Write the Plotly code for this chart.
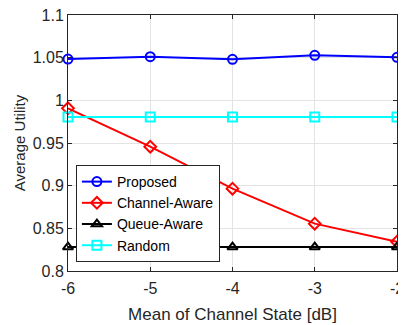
import plotly.graph_objects as go

x_vals = [-6, -5, -4, -3, -2]
x_tick_labels = ["-6", "-5", "-4", "-3", "-2"]
y_tick_vals = [0.8, 0.85, 0.9, 0.95, 1.0, 1.05, 1.1]
y_tick_labels = ["0.8", "0.85", "0.9", "0.95", "1", "1.05", "1.1"]
proposed = [1.0484, 1.0511, 1.0480, 1.0528, 1.0504]
channel_aware = [0.9906, 0.9457, 0.8965, 0.8555, 0.8343]
queue_aware = [0.828, 0.828, 0.828, 0.828, 0.828]
random_vals = [0.9805, 0.9805, 0.9805, 0.9805, 0.9805]

series = [
    ("Proposed", proposed, "#0000FF", "circle-open"),
    ("Channel-Aware", channel_aware, "#FF0000", "diamond-open"),
    ("Queue-Aware", queue_aware, "#000000", "triangle-up-open"),
    ("Random", random_vals, "#00FFFF", "square-open"),
]

FONT = "Liberation Sans, Arial, Helvetica, sans-serif"

fig = go.Figure()
for name, ys, color, sym in series:
    fig.add_trace(go.Scatter(
        x=x_vals, y=ys, name=name, mode="lines+markers",
        line=dict(color=color, width=2),
        marker=dict(symbol=sym, size=9, color=color, line=dict(color=color, width=2)),
        cliponaxis=False,
    ))

axis_common = dict(
    showgrid=True, gridcolor="#E3E3E3", gridwidth=1,
    showline=True, linecolor="#262626", linewidth=1, mirror="ticks",
    ticks="inside", ticklen=4, tickcolor="#262626",
    tickfont=dict(family=FONT, size=16, color="#262626"),
    zeroline=False, automargin=False, ticklabeloverflow="allow",
)

fig.update_layout(
    width=398, height=317,
    margin=dict(l=60, r=9, t=7, b=54),
    paper_bgcolor="white", plot_bgcolor="white",
    font=dict(family=FONT, size=15, color="#262626"),
    xaxis=dict(range=[-6, -2], tickvals=x_vals, ticktext=x_tick_labels,
               ticklabelstandoff=3,
               title=dict(text="Mean of Channel State [dB]", font=dict(size=17), standoff=11),
               **axis_common),
    yaxis=dict(range=[0.8, 1.1], tickvals=y_tick_vals, ticktext=y_tick_labels,
               title=dict(text="Average Utility", font=dict(size=15), standoff=3),
               **axis_common),
    legend=dict(x=0.024, y=0.414, xanchor="left", yanchor="top",
                bgcolor="white", bordercolor="#262626", borderwidth=1,
                font=dict(size=14, color="#000000"), tracegroupgap=0,
                itemwidth=30),
    showlegend=True,
)

fig.write_html("out.html")
